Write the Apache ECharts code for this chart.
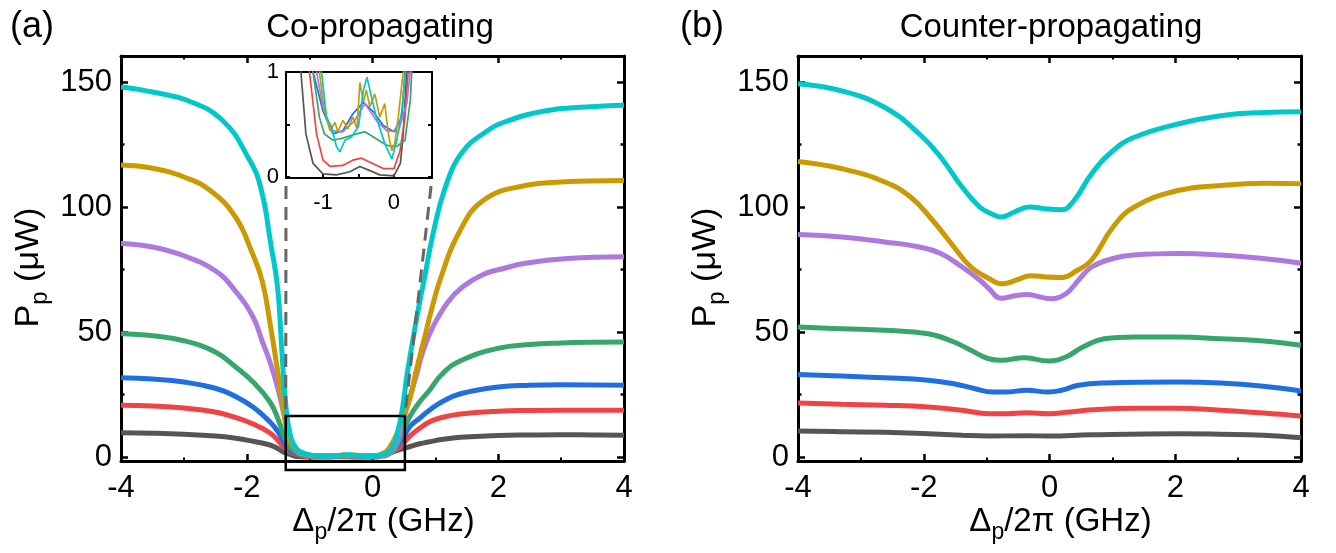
<!DOCTYPE html>
<html>
<head>
<meta charset="utf-8">
<script src="https://cdn.jsdelivr.net/npm/echarts@6/dist/echarts.min.js"></script>
<style>
html, body { margin: 0; padding: 0; background: #fff; }
#main { width: 1336px; height: 553px; }
</style>
</head>
<body>
<div id="main"></div>
<script>
var myChart = echarts.init(document.getElementById('main'));

// curve colours, lowest power first
var colors = ['#555555', '#f04444', '#1f6fe3', '#37a66b', '#ad78e0', '#cc9a00', '#00c8c8'];

// (a) co-propagating: [detuning (GHz), Pp (uW)]
var coGray = [[-4,9.7],[-3.5,9.5],[-3,9.1],[-2.5,8.4],[-2.2,7.6],[-1.9,6.3],[-1.63,4.8],[-1.5,3.3],[-1.4,1.8],[-1.31,1.0],[-1.24,0.41],[-1.14,0.13],[-1.0,0.03],[-0.81,0.02],[-0.62,0.05],[-0.48,0.1],[-0.34,0.06],[-0.2,0.02],[0,0.01],[0.09,0.13],[0.13,0.41],[0.18,1.0],[0.3,1.9],[0.45,3.1],[0.59,4.1],[0.75,5.3],[0.91,6.1],[1.1,7.0],[1.4,7.9],[2,8.6],[2.5,8.8],[3,8.9],[3.5,8.8],[4,8.7]];
var coRed = [[-4,20.7],[-3.5,20.4],[-3,19.6],[-2.5,18.0],[-2.2,16.0],[-1.9,13.2],[-1.63,9.6],[-1.5,6.5],[-1.4,3.6],[-1.3,1.8],[-1.19,1.0],[-1.09,0.41],[-1.0,0.16],[-0.9,0.1],[-0.72,0.11],[-0.58,0.16],[-0.46,0.18],[-0.34,0.14],[-0.15,0.08],[0,0.08],[0.085,0.25],[0.155,0.57],[0.2,1.0],[0.3,2.0],[0.45,4.2],[0.52,6.3],[0.6,8.5],[0.75,11.5],[0.91,14.1],[1.1,15.8],[1.4,17.2],[2,18.3],[2.5,18.6],[3,18.7],[4,18.7]];
var coBlue = [[-4,31.7],[-3.5,31.2],[-3,30.0],[-2.5,27.5],[-2.2,24.5],[-1.9,20],[-1.63,14],[-1.5,10],[-1.4,5.5],[-1.3,2.5],[-1.2,1.3],[-1.14,1.0],[-1.0,0.63],[-0.86,0.41],[-0.72,0.44],[-0.58,0.6],[-0.43,0.71],[-0.29,0.62],[-0.15,0.49],[0,0.43],[0.11,0.57],[0.155,1.0],[0.3,2.6],[0.45,6],[0.59,12],[0.75,15.5],[0.91,18.8],[1.1,22],[1.4,25.3],[2,28],[2.5,28.7],[3,28.9],[4,28.7]];
var coGreen = [[-4,49.3],[-3.5,48.5],[-3,46.5],[-2.5,42],[-2.2,36.5],[-1.9,30],[-1.63,22],[-1.5,15],[-1.4,8],[-1.3,3.5],[-1.2,1.6],[-1.14,1.0],[-1.05,0.57],[-0.98,0.41],[-0.86,0.35],[-0.72,0.37],[-0.53,0.41],[-0.41,0.43],[-0.29,0.38],[-0.1,0.3],[0.04,0.29],[0.155,0.35],[0.23,0.73],[0.25,1.0],[0.35,3],[0.45,8],[0.59,16],[0.75,22],[0.91,26.8],[1.1,33],[1.4,38.5],[2,43.5],[2.5,45],[3,45.6],[3.5,45.9],[4,46]];
var coPurple = [[-4,85.4],[-3.5,84],[-3,80.5],[-2.5,74.5],[-2.2,67],[-1.9,56],[-1.75,46],[-1.63,38],[-1.5,27],[-1.4,16],[-1.3,7],[-1.2,2.5],[-1.09,1.0],[-1.0,0.67],[-0.88,0.44],[-0.72,0.43],[-0.55,0.54],[-0.41,0.7],[-0.25,0.54],[-0.1,0.44],[0.06,0.43],[0.18,0.7],[0.23,1.0],[0.35,4],[0.45,11],[0.55,20],[0.69,32],[0.8,42],[0.96,52],[1.2,62],[1.43,68],[1.76,73],[2.1,75.5],[2.43,77.5],[3.1,79.4],[4,80.1]];
var coGold = [[-4,116.8],[-3.5,115.5],[-3,112],[-2.58,106.6],[-2.18,96],[-1.91,81.4],[-1.75,70],[-1.62,52],[-1.5,33],[-1.4,16],[-1.3,6],[-1.15,2],[-1.05,1.0],[-0.98,0.63],[-0.9,0.44],[-0.83,0.52],[-0.79,0.43],[-0.72,0.54],[-0.65,0.46],[-0.58,0.57],[-0.52,0.46],[-0.48,0.9],[-0.43,0.71],[-0.39,0.83],[-0.34,0.67],[-0.27,0.79],[-0.2,0.57],[-0.13,0.7],[-0.08,0.41],[-0.03,0.25],[0.01,0.32],[0.06,0.57],[0.13,1.0],[0.25,3],[0.4,10],[0.5,17],[0.59,23],[0.7,35],[0.83,48],[0.95,60],[1.09,72],[1.36,89],[1.76,102.6],[2.43,108.6],[3,110],[4,110.6]];
var coCyan = [[-4,148],[-3.5,146],[-2.92,142.4],[-2.38,134.5],[-1.98,119.9],[-1.78,108],[-1.61,84],[-1.51,68],[-1.45,46],[-1.38,21],[-1.3,8],[-1.2,3],[-1.1,1.6],[-1.02,1.0],[-0.95,0.57],[-0.88,0.48],[-0.81,0.29],[-0.76,0.24],[-0.69,0.35],[-0.6,0.38],[-0.5,0.48],[-0.43,0.83],[-0.38,0.95],[-0.34,0.83],[-0.25,0.57],[-0.13,0.32],[-0.03,0.17],[0.04,0.35],[0.11,0.63],[0.16,1.0],[0.3,3],[0.4,10],[0.48,20],[0.55,33],[0.65,48],[0.75,62],[0.83,72],[0.96,89],[1.16,108],[1.43,122],[1.8,130],[2.1,134],[2.76,138.5],[3.4,140],[4,140.7]];

// (b) counter-propagating
var ctGray = [[-4,10.4],[-3.3,10.1],[-2.62,9.9],[-1.93,9.3],[-1.39,8.7],[-0.97,8.4],[-0.36,8.5],[-0.02,8.4],[0.67,8.9],[2.04,9.3],[2.72,9.1],[3.4,8.7],[4,7.7]];
var ctRed = [[-4,21.6],[-3.3,21.1],[-2.62,20.7],[-1.93,20],[-1.39,18.7],[-0.97,17.3],[-0.7,17.3],[-0.36,17.7],[-0.02,17.3],[0.33,18],[0.67,18.9],[1.35,19.5],[2.04,19.5],[2.72,18.7],[3.4,17.6],[4,16.4]];
var ctBlue = [[-4,33],[-3.3,32.4],[-2.62,31.7],[-1.93,30.7],[-1.52,29.3],[-1.18,27.3],[-0.91,26],[-0.7,26],[-0.36,26.7],[-0.02,26],[0.19,26.7],[0.46,28.7],[0.87,29.6],[2.04,30],[2.72,29.6],[3.4,28.3],[4,26.4]];
var ctGreen = [[-4,52],[-3.3,51.3],[-2.62,50.7],[-1.93,49.3],[-1.52,46],[-1.25,42.7],[-0.97,39.3],[-0.77,38.7],[-0.39,39.7],[-0.02,38.4],[0.26,40],[0.53,44],[0.87,47.3],[1.35,48],[2.04,48],[2.72,47.3],[3.4,46.4],[4,44.7]];
var ctPurple = [[-4,89],[-3.3,88],[-2.62,86],[-2.07,84],[-1.73,81.4],[-1.39,76],[-1.11,70.8],[-0.97,67.5],[-0.77,63.5],[-0.55,64.5],[-0.36,65],[-0.15,64],[0.02,63.3],[0.26,65.3],[0.46,70.7],[0.67,76],[1.01,79.4],[1.35,80.8],[2.04,81.4],[2.72,80.8],[3.4,79.4],[4,77.5]];
var ctGold = [[-4,118.2],[-3.3,115.3],[-2.62,110],[-2.21,104],[-1.86,94.7],[-1.52,84],[-1.25,76],[-0.97,71.5],[-0.75,69.3],[-0.5,71],[-0.3,72.5],[-0.05,72],[0.2,71.8],[0.43,74.5],[0.67,78.8],[1.01,92],[1.35,100],[2.04,106.6],[2.72,108.6],[3.4,109.5],[4,109.3]];
var ctCyan = [[-4,149.3],[-3.3,146.4],[-2.62,139.8],[-2.07,129.2],[-1.73,119.9],[-1.39,108],[-1.11,100],[-0.9,97],[-0.77,96],[-0.56,98],[-0.32,100],[-0.08,99.3],[0.19,98.9],[0.39,102.6],[0.67,113.3],[1.01,122.5],[1.35,127.9],[2.04,133.2],[2.72,136.5],[3.4,137.8],[4,138.1]];

var coSeries = [coGray, coRed, coBlue, coGreen, coPurple, coGold, coCyan];
var ctSeries = [ctGray, ctRed, ctBlue, ctGreen, ctPurple, ctGold, ctCyan];

// tick positions
var yMajor = [0, 50, 100, 150];
var yMinor = [25, 75, 125];
var insetXMajor = [-1, 0];
var insetXMinor = [-0.5];
var insetYMajor = [0, 1];
var insetYMinor = [0.5];

// zoomed window drawn in (a), in its data units
var zoomBox = [[-1.38, 16.4], [0.515, -5.2]];

var FONT = 'Liberation Sans, Arial, sans-serif';
var xName = '{a|\u0394}{s|p}{a|/2\u03c0 (GHz)}';
var yName = '{a|P}{s|p}{a| (\u03bcW)}';
var nameRich = {
    a: { fontSize: 33, fontFamily: FONT, color: '#000' },
    s: { fontSize: 23, fontFamily: FONT, color: '#000', verticalAlign: 'bottom', padding: [22, 0, 0, 0] }
};
var yNameRich = {
    a: { fontSize: 34, fontFamily: FONT, color: '#000' },
    s: { fontSize: 24, fontFamily: FONT, color: '#000', verticalAlign: 'bottom', padding: [22, 0, 0, 0] }
};

function xMain(grid, pos, withLabel) {
    return {
        type: 'value', gridIndex: grid, position: pos, min: -4, max: 4, interval: 2,
        axisLine: { onZero: false, lineStyle: { color: '#000', width: 3 } },
        axisTick: { inside: true, length: 7, lineStyle: { color: '#000', width: 2.5 } },
        minorTick: { show: true, splitNumber: 2, length: 3.5, lineStyle: { color: '#000', width: 2 } },
        axisLabel: { show: withLabel, margin: 12, color: '#000', fontSize: 31, fontFamily: FONT },
        splitLine: { show: false },
        name: withLabel ? xName : '',
        nameLocation: 'middle', nameGap: 38, nameMoveOverlap: false,
        nameTextStyle: { rich: nameRich, padding: [0, 0, 0, 22] }
    };
}

function yMainAxis(grid, pos, vals, len, withLabel, showLine) {
    return {
        type: 'value', gridIndex: grid, position: pos, min: -1.6, max: 160.4,
        axisLine: { show: showLine, onZero: false, lineStyle: { color: '#000', width: 3 } },
        axisTick: { inside: true, length: len, customValues: vals, lineStyle: { color: '#000', width: 2.5 } },
        axisLabel: { show: withLabel, customValues: vals, margin: 9, color: '#000', fontSize: 31, fontFamily: FONT },
        splitLine: { show: false },
        name: withLabel ? yName : '',
        nameLocation: 'middle', nameGap: 69, nameMoveOverlap: false,
        nameTextStyle: { rich: yNameRich, padding: [0, 18, 0, 0] }
    };
}

function insetX(pos, vals, len, withLabel, showLine) {
    return {
        type: 'value', gridIndex: 2, position: pos, min: -1.52, max: 0.535,
        axisLine: { show: showLine, onZero: false, lineStyle: { color: '#000', width: 2 } },
        axisTick: { inside: true, length: len, customValues: vals, lineStyle: { color: '#000', width: 2 } },
        axisLabel: { show: withLabel, customValues: vals, margin: 14, color: '#000', fontSize: 22, fontFamily: FONT },
        splitLine: { show: false }
    };
}

function insetY(pos, vals, len, withLabel, showLine) {
    return {
        type: 'value', gridIndex: 2, position: pos, min: -0.01, max: 1,
        axisLine: { show: showLine, onZero: false, lineStyle: { color: '#000', width: 2 } },
        axisTick: { inside: true, length: len, customValues: vals, lineStyle: { color: '#000', width: 2 } },
        axisLabel: { show: withLabel, customValues: vals, margin: 7, color: '#000', fontSize: 22, fontFamily: FONT },
        splitLine: { show: false }
    };
}

function lineSeries(data, color, xi, yi, width, smooth) {
    return {
        type: 'line', data: data, xAxisIndex: xi, yAxisIndex: yi,
        symbol: 'none', showSymbol: false, smooth: smooth,
        lineStyle: { color: color, width: width }, itemStyle: { color: color },
        clip: true, animation: false, silent: true
    };
}

var series = [];
coSeries.forEach(function (d, i) { series.push(lineSeries(d, colors[i], 0, 0, 5, 0.45)); });
ctSeries.forEach(function (d, i) { series.push(lineSeries(d, colors[i], 2, 4, 5, 0.45)); });
coSeries.forEach(function (d, i) { series.push(lineSeries(d, colors[i], 4, 8, 1.7, false)); });

var option = {
    backgroundColor: '#fff',
    animation: false,
    title: [
        { text: '(a)', left: 5, top: 4, textStyle: { fontSize: 36, fontWeight: 'normal', fontFamily: FONT, color: '#000' } },
        { text: 'Co-propagating', left: 375, top: 6, textAlign: 'center', textStyle: { fontSize: 33, fontWeight: 'normal', fontFamily: FONT, color: '#000' } },
        { text: '(b)', left: 675, top: 4, textStyle: { fontSize: 36, fontWeight: 'normal', fontFamily: FONT, color: '#000' } },
        { text: 'Counter-propagating', left: 1046, top: 6, textAlign: 'center', textStyle: { fontSize: 33, fontWeight: 'normal', fontFamily: FONT, color: '#000' } }
    ],
    grid: [
        { left: 121, top: 56, width: 503, height: 405, outerBoundsMode: 'none' },
        { left: 798, top: 56, width: 503, height: 405, outerBoundsMode: 'none' },
        { left: 286, top: 72, width: 146, height: 106, show: true, backgroundColor: '#fff', borderWidth: 0, outerBoundsMode: 'none' }
    ],
    xAxis: [
        xMain(0, 'bottom', true),
        xMain(0, 'top', false),
        xMain(1, 'bottom', true),
        xMain(1, 'top', false),
        insetX('bottom', insetXMajor.concat(insetXMinor), 4, false, true),
        insetX('top', [], 4, false, true),
        insetX('bottom', insetXMajor, 0, true, false)
    ],
    yAxis: [
        yMainAxis(0, 'left', yMajor, 7, true, true),
        yMainAxis(0, 'left', yMinor, 3.5, false, false),
        yMainAxis(0, 'right', yMajor, 7, false, true),
        yMainAxis(0, 'right', yMinor, 3.5, false, false),
        yMainAxis(1, 'left', yMajor, 7, true, true),
        yMainAxis(1, 'left', yMinor, 3.5, false, false),
        yMainAxis(1, 'right', yMajor, 7, false, true),
        yMainAxis(1, 'right', yMinor, 3.5, false, false),
        insetY('left', insetYMajor.concat(insetYMinor), 4, false, true),
        insetY('right', insetYMajor.concat(insetYMinor), 4, false, true),
        insetY('left', insetYMajor, 0, true, false)
    ],
    series: series
};

myChart.setOption(option);

// zoom window and guide lines, placed through the axes' own scales
function drawOverlay() {
    var tl = myChart.convertToPixel({ xAxisIndex: 0, yAxisIndex: 0 }, zoomBox[0]);
    var br = myChart.convertToPixel({ xAxisIndex: 0, yAxisIndex: 0 }, zoomBox[1]);
    var insL = myChart.convertToPixel({ xAxisIndex: 4, yAxisIndex: 8 }, [-1.52, -0.01]);
    var insR = myChart.convertToPixel({ xAxisIndex: 4, yAxisIndex: 8 }, [0.535, -0.01]);
    // guides start a little below the inset frame
    function startPt(a, b) {
        var t = 8 / (b[1] - a[1]);
        return [a[0] + (b[0] - a[0]) * t, a[1] + 8];
    }
    var s1 = startPt(insL, tl), s2 = startPt(insR, [br[0], tl[1]]);
    var dash = { stroke: '#666', lineWidth: 3, lineDash: [13, 8] };
    myChart.setOption({
        graphic: [
            { type: 'rect', z: 100, shape: { x: tl[0], y: tl[1], width: br[0] - tl[0], height: br[1] - tl[1] },
              style: { fill: null, stroke: '#000', lineWidth: 2.5 } },
            { type: 'line', z: 100, shape: { x1: s1[0], y1: s1[1], x2: tl[0], y2: tl[1] }, style: dash },
            { type: 'line', z: 100, shape: { x1: s2[0], y1: s2[1], x2: br[0], y2: tl[1] }, style: dash }
        ]
    });
}
drawOverlay();
</script>
</body>
</html>
